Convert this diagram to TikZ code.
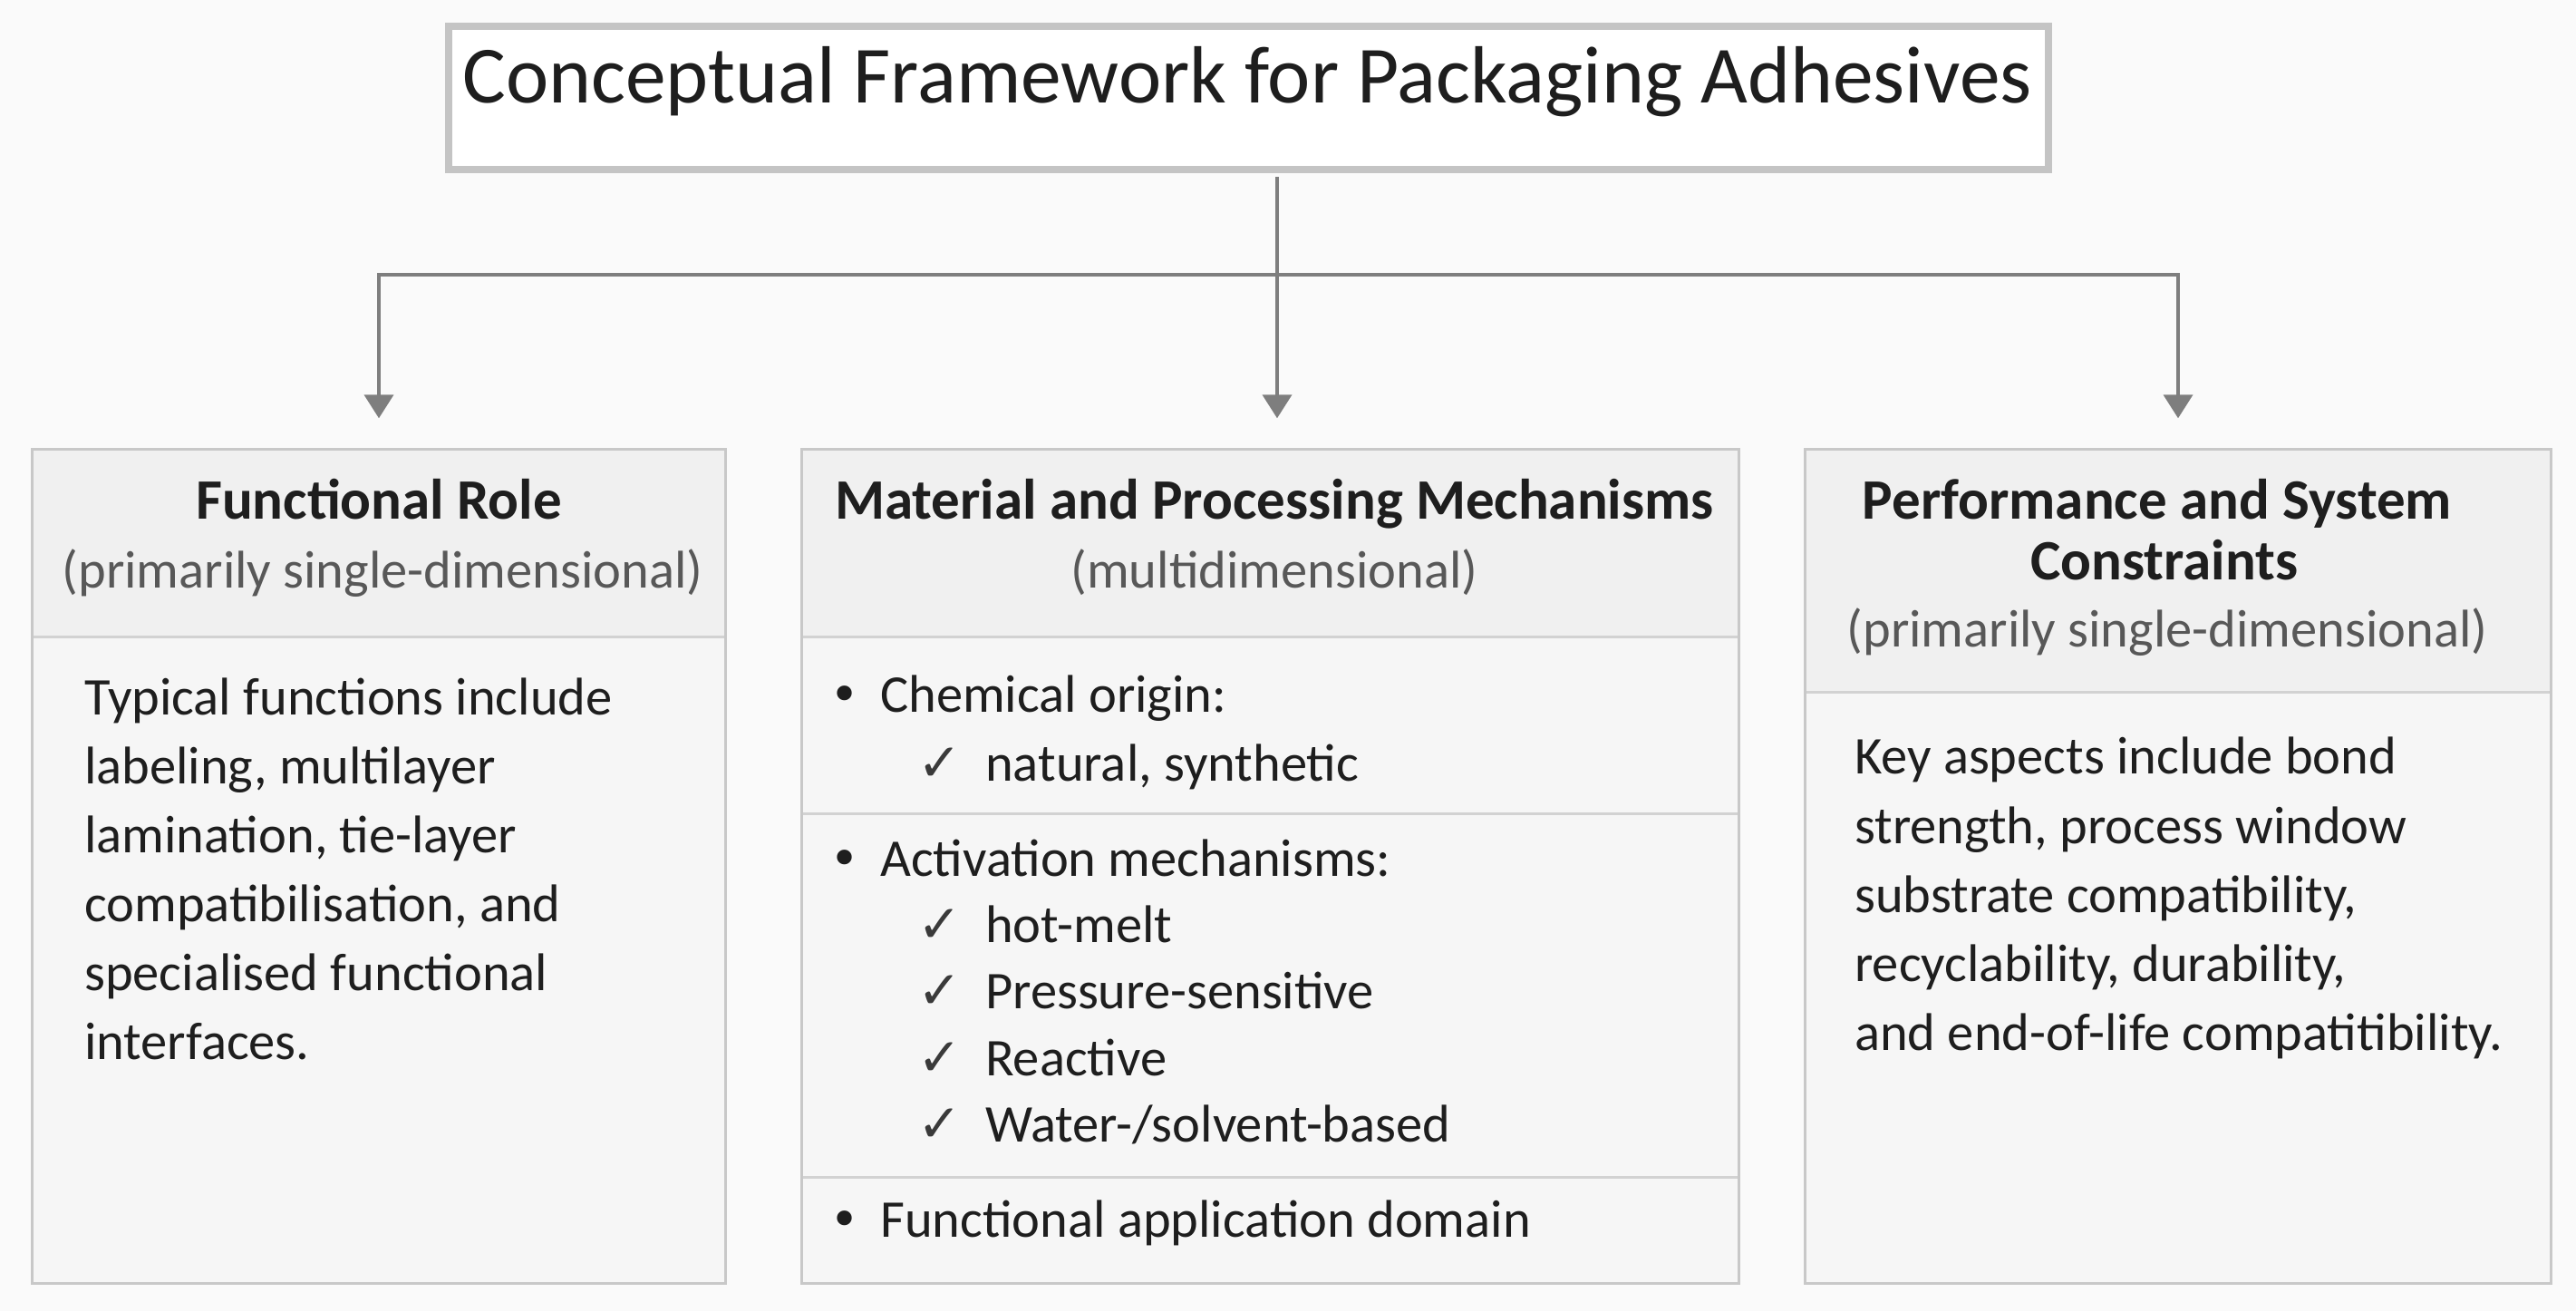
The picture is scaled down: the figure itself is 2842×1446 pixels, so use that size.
\documentclass[tikz,border=0pt]{standalone}
\usepackage{fontspec}
\setmainfont{Carlito}
\newfontfamily\symfnt{DejaVu Sans}
\usetikzlibrary{arrows.meta}
\definecolor{bgc}{HTML}{FAFAFA}
\definecolor{titleline}{HTML}{C4C4C4}
\definecolor{boxline}{HTML}{C8C8C8}
\definecolor{divline}{HTML}{D2D2D2}
\definecolor{headfill}{HTML}{F0F0F0}
\definecolor{bodyfill}{HTML}{F6F6F6}
\definecolor{connc}{HTML}{7E7E7E}
\definecolor{textc}{HTML}{1E1E1E}
\definecolor{subc}{HTML}{585858}
\definecolor{checkc}{HTML}{3A3A3A}
\newcommand\titlefnt{\fontsize{89.5pt}{100pt}\selectfont}
\newcommand\headfnt{\fontsize{63pt}{72pt}\selectfont\bfseries}
\newcommand\bodyfnt{\fontsize{58.5pt}{70pt}\selectfont}
\newcommand\chkfnt{\symfnt\fontsize{58pt}{64pt}\selectfont}
\begin{document}
\begin{tikzpicture}[x=1pt,y=-1pt,
  titlebox/.style={draw=titleline, line width=8pt, fill=white, minimum width=1765pt, minimum height=158pt, inner sep=0pt},
  panel/.style={fill=bodyfill, inner sep=0pt, minimum height=920pt},
  panelline/.style={draw=boxline, line width=3pt},
  divider/.style={draw=divline, line width=3pt},
  conn/.style={draw=connc, line width=4pt},
  arr/.style={conn, -{Triangle[length=26pt,width=32pt]}, shorten >=34pt},
  ttl/.style={inner sep=0pt, text=textc, font=\titlefnt, anchor=base},
  hd/.style={inner sep=0pt, text=textc, font=\headfnt, anchor=base},
  sub/.style={inner sep=0pt, text=subc, font=\bodyfnt, anchor=base},
  bt/.style={inner sep=0pt, text=textc, font=\bodyfnt, anchor=base west},
  bul/.style={inner sep=0pt, text=textc, font=\symfnt\fontsize{56pt}{60pt}\selectfont, anchor=base},
  chk/.style={inner sep=0pt, text=checkc, font=\chkfnt, anchor=base}
]
\useasboundingbox (0,0) rectangle (2842,1446);
\fill[bgc] (0,0) rectangle (2842,1446);

% title
\node[titlebox] (title) at (1377.5,108) {};
\node[ttl] (titletext) at (1376,113) {Conceptual Framework for Packaging Adhesives};

% panels
\node[panel, minimum width=765pt] (box1) at (418,955.5) {};
\node[panel, minimum width=1034pt] (box2) at (1401.5,955.5) {};
\node[panel, minimum width=823pt] (box3) at (2403,955.5) {};

\coordinate (h12) at (0,702);
\coordinate (h3) at (0,763);
\coordinate (s1) at (0,897);
\coordinate (s2) at (0,1298);

\fill[headfill] (box1.north west) rectangle (box1.east |- h12);
\fill[headfill] (box2.north west) rectangle (box2.east |- h12);
\fill[headfill] (box3.north west) rectangle (box3.east |- h3);

\draw[divider] (box1.west |- h12) -- (box1.east |- h12);
\draw[divider] (box2.west |- h12) -- (box2.east |- h12);
\draw[divider] (box2.west |- s1) -- (box2.east |- s1);
\draw[divider] (box2.west |- s2) -- (box2.east |- s2);
\draw[divider] (box3.west |- h3) -- (box3.east |- h3);

\draw[panelline] (box1.north west) rectangle (box1.south east);
\draw[panelline] (box2.north west) rectangle (box2.south east);
\draw[panelline] (box3.north west) rectangle (box3.south east);

% connectors
\coordinate (j) at (1409,303);
\draw[conn, shorten <=4pt] (title.south -| j) -- (j);
\draw[arr] (j) -| (box1.north);
\draw[arr] (j) -- (j |- box2.north);
\draw[arr] (j) -| (box3.north);

% box 1
\node[hd] (b1h) at (418,572) {Functional Role};
\node[sub] (b1s) at (422,648) {(primarily single-dimensional)};
\node[bt] (b1l1) at (93,788) {Typical functions include};
\node[bt] (b1l2) at (93,864) {labeling, multilayer};
\node[bt] (b1l3) at (93,940) {lamination, tie-layer};
\node[bt] (b1l4) at (93,1016) {compatibilisation, and};
\node[bt] (b1l5) at (93,1092) {specialised functional};
\node[bt] (b1l6) at (93,1168) {interfaces.};

% box 2
\node[hd] (b2h) at (1406,572) {Material and Processing Mechanisms};
\node[sub] (b2s) at (1406,648) {(multidimensional)};
\node[bul] (b2b1) at (932,785) {•};
\node[bt] (b2t1) at (971,785) {Chemical origin:};
\node[chk] (b2c1) at (1037,861) {✓};
\node[bt] (b2u1) at (1087,861) {natural, synthetic};
\node[bul] (b2b2) at (932,966) {•};
\node[bt] (b2t2) at (971,966) {Activation mechanisms:};
\node[chk] (b2c2) at (1037,1039) {✓};
\node[bt] (b2u2) at (1087,1039) {hot-melt};
\node[chk] (b2c3) at (1037,1112) {✓};
\node[bt] (b2u3) at (1087,1112) {Pressure-sensitive};
\node[chk] (b2c4) at (1037,1186) {✓};
\node[bt] (b2u4) at (1087,1186) {Reactive};
\node[chk] (b2c5) at (1037,1259) {✓};
\node[bt] (b2u5) at (1087,1259) {Water-/solvent-based};
\node[bul] (b2b3) at (932,1364) {•};
\node[bt] (b2t3) at (971,1364) {Functional application domain};

% box 3
\node[hd] (b3h1) at (2380,572) {Performance and System};
\node[hd] (b3h2) at (2388,639) {Constraints};
\node[sub] (b3s) at (2391,713) {(primarily single-dimensional)};
\node[bt] (b3l1) at (2046,853) {Key aspects include bond};
\node[bt] (b3l2) at (2046,930) {strength, process window};
\node[bt] (b3l3) at (2046,1006) {substrate compatibility,};
\node[bt] (b3l4) at (2046,1082) {recyclability, durability,};
\node[bt] (b3l5) at (2046,1158) {and end-of-life compatitibility.};
\end{tikzpicture}
\end{document}
